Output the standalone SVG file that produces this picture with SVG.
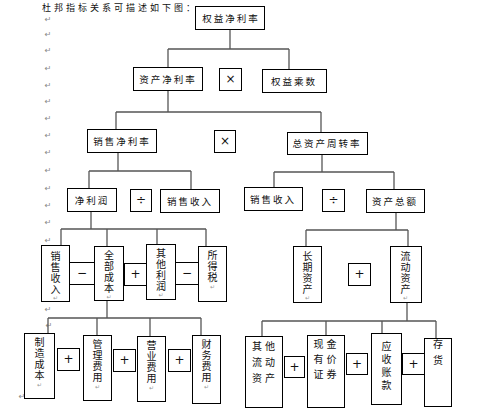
<svg xmlns="http://www.w3.org/2000/svg" width="484" height="413" viewBox="0 0 484 413">
<style>
.bg{fill:#fff}
.box{fill:#fff;stroke:#000;stroke-width:1}
.t{font-family:"Noto Sans CJK SC","Noto Sans CJK JP",sans-serif;font-size:9.5px;fill:#111;text-anchor:middle;dominant-baseline:central;letter-spacing:2px}
.h{font-family:"Noto Sans CJK SC","Noto Sans CJK JP",sans-serif;font-size:10px;fill:#111;text-anchor:middle;dominant-baseline:central;letter-spacing:3px}
.v{font-family:"Noto Sans CJK SC","Noto Sans CJK JP",sans-serif;font-size:10px;fill:#111;text-anchor:middle;writing-mode:vertical-rl;letter-spacing:1px}
.op{font-family:"DejaVu Sans",sans-serif;font-size:12px;fill:#111;text-anchor:middle;dominant-baseline:central}
.pm{font-family:"DejaVu Sans",sans-serif;font-size:8px;fill:#888;text-anchor:middle;dominant-baseline:central}
.pi{font-family:"DejaVu Sans",sans-serif;font-size:6px;fill:#999;text-anchor:middle;dominant-baseline:central}
.conn line{stroke:#555;stroke-width:1.3}
</style>
<rect class="bg" x="0" y="0" width="484" height="413"/>
<text x="42" y="10.5" style="font-family:'Noto Sans CJK SC',sans-serif;font-size:9px;fill:#111;letter-spacing:3px">杜邦指标关系可描述如下图：</text>
<g id="marks">
<text class="pm" x="48" y="19">↵</text><text class="pm" x="48" y="34">↵</text><text class="pm" x="48" y="50">↵</text>
<text class="pm" x="48" y="68">↵</text><text class="pm" x="48" y="85">↵</text><text class="pm" x="48" y="101">↵</text>
<text class="pm" x="48" y="118">↵</text><text class="pm" x="48" y="135">↵</text><text class="pm" x="48" y="152">↵</text>
<text class="pm" x="48" y="170">↵</text><text class="pm" x="48" y="188">↵</text><text class="pm" x="48" y="205">↵</text>
<text class="pm" x="48" y="222">↵</text><text class="pm" x="48" y="240">↵</text><text class="pm" x="48" y="309">↵</text>
<text class="pm" x="49" y="325">↵</text><text class="pm" x="22" y="396">↵</text>
</g>
<g class="conn" id="connectors">
<line x1="230" y1="29" x2="230" y2="49"/>
<line x1="168" y1="49" x2="289" y2="49"/>
<line x1="168" y1="49" x2="168" y2="67"/>
<line x1="289" y1="49" x2="289" y2="69"/>
<line x1="168" y1="90" x2="168" y2="112"/>
<line x1="116" y1="112" x2="321" y2="112"/>
<line x1="116" y1="112" x2="116" y2="129"/>
<line x1="321" y1="112" x2="321" y2="132"/>
<line x1="118" y1="152" x2="118" y2="171"/>
<line x1="89" y1="171" x2="191" y2="171"/>
<line x1="89" y1="171" x2="89" y2="188"/>
<line x1="191" y1="171" x2="191" y2="189"/>
<line x1="322" y1="154" x2="322" y2="172"/>
<line x1="274" y1="172" x2="394" y2="172"/>
<line x1="274" y1="172" x2="274" y2="187"/>
<line x1="394" y1="172" x2="394" y2="189"/>
<line x1="91" y1="211" x2="91" y2="229"/>
<line x1="61" y1="229" x2="206" y2="229"/>
<line x1="61" y1="229" x2="61" y2="245"/>
<line x1="107" y1="229" x2="107" y2="246"/>
<line x1="157" y1="229" x2="157" y2="244"/>
<line x1="206" y1="229" x2="206" y2="246"/>
<line x1="396" y1="212" x2="396" y2="230"/>
<line x1="306" y1="230" x2="408" y2="230"/>
<line x1="306" y1="230" x2="306" y2="246"/>
<line x1="408" y1="230" x2="408" y2="246"/>
<line x1="107" y1="300" x2="107" y2="318"/>
<line x1="48" y1="318" x2="201" y2="318"/>
<line x1="48" y1="318" x2="48" y2="333"/>
<line x1="97" y1="318" x2="97" y2="335"/>
<line x1="150" y1="318" x2="150" y2="336"/>
<line x1="201" y1="318" x2="201" y2="335"/>
<line x1="407" y1="302" x2="407" y2="321"/>
<line x1="262" y1="321" x2="436" y2="321"/>
<line x1="262" y1="321" x2="262" y2="336"/>
<line x1="326" y1="321" x2="326" y2="335"/>
<line x1="382" y1="321" x2="382" y2="333"/>
<line x1="436" y1="321" x2="436" y2="338"/>
</g>
<g id="n-roe"><rect class="box" x="195.5" y="6.5" width="69" height="23"/><text class="t" x="231" y="18">权益净利率</text></g>
<g id="n-roa"><rect class="box" x="133.5" y="67.5" width="69" height="23"/><text class="t" x="168" y="79">资产净利率</text></g>
<g id="op1"><rect class="box" x="219.5" y="68.5" width="22" height="22"/><text class="op" x="230.5" y="79">×</text></g>
<g id="n-em"><rect class="box" x="262.5" y="69.5" width="64" height="23"/><text class="t" x="294" y="81">权益乘数</text></g>
<g id="n-npm"><rect class="box" x="87.5" y="129.5" width="69" height="23"/><text class="t" x="122" y="141">销售净利率</text></g>
<g id="op2"><rect class="box" x="214.5" y="130.5" width="21" height="22"/><text class="op" x="225" y="141">×</text></g>
<g id="n-tat"><rect class="box" x="287.5" y="132.5" width="80" height="22"/><text class="t" x="327" y="143">总资产周转率</text></g>
<g id="n-np"><rect class="box" x="67.5" y="188.5" width="49" height="23"/><text class="t" x="92" y="200">净利润</text></g>
<g id="op3"><rect class="box" x="130.5" y="189.5" width="21" height="22"/><text class="op" x="141" y="200">÷</text></g>
<g id="n-sales1"><rect class="box" x="160.5" y="189.5" width="59" height="23"/><text class="t" x="190" y="201">销售收入</text></g>
<g id="n-sales2"><rect class="box" x="244.5" y="187.5" width="58" height="23"/><text class="t" x="273" y="199">销售收入</text></g>
<g id="op4"><rect class="box" x="322.5" y="189.5" width="22" height="22"/><text class="op" x="333.5" y="200">÷</text></g>
<g id="n-ta"><rect class="box" x="366.5" y="189.5" width="58" height="23"/><text class="t" x="395" y="201">资产总额</text></g>
<g id="n-sr"><rect class="box" x="41.5" y="245.5" width="28" height="56"/><text class="v" x="55.5" y="273">销售收入</text><text class="pi" x="55.5" y="297">↵</text></g>
<g id="op5"><rect class="box" x="69.5" y="262.5" width="25" height="22"/><text class="op" x="82" y="273">−</text></g>
<g id="n-tc"><rect class="box" x="94.5" y="246.5" width="29" height="54"/><text class="v" x="109" y="272">全部成本</text><text class="pi" x="109" y="296">↵</text></g>
<g id="op6"><rect class="box" x="124.5" y="263.5" width="22" height="22"/><text class="op" x="135.5" y="274">+</text></g>
<g id="n-op"><rect class="box" x="146.5" y="244.5" width="29" height="55"/><text class="v" x="161" y="270">其他利润</text><text class="pi" x="161" y="294">↵</text></g>
<g id="op7"><rect class="box" x="175.5" y="262.5" width="23" height="22"/><text class="op" x="187" y="273">−</text></g>
<g id="n-tax"><rect class="box" x="198.5" y="246.5" width="28" height="55"/><text class="v" x="212.5" y="267">所得税</text><text class="pi" x="212.5" y="286">↵</text></g>
<g id="n-la"><rect class="box" x="293.5" y="246.5" width="28" height="56"/><text class="v" x="307.5" y="273">长期资产</text><text class="pi" x="307.5" y="297">↵</text></g>
<g id="op8"><rect class="box" x="348.5" y="263.5" width="22" height="22"/><text class="op" x="359.5" y="274">+</text></g>
<g id="n-ca"><rect class="box" x="390.5" y="246.5" width="31" height="56"/><text class="v" x="405.5" y="273">流动资产</text><text class="pi" x="405.5" y="297">↵</text></g>
<g id="n-mc"><rect class="box" x="24.5" y="333.5" width="30" height="65"/><text class="v" x="39.5" y="359">制造成本</text><text class="pi" x="39.5" y="384">↵</text></g>
<g id="op9"><rect class="box" x="57.5" y="348.5" width="22" height="22"/><text class="op" x="68.5" y="359">+</text></g>
<g id="n-ae"><rect class="box" x="83.5" y="335.5" width="28" height="65"/><text class="v" x="97.5" y="361">管理费用</text><text class="pi" x="97.5" y="386">↵</text></g>
<g id="op10"><rect class="box" x="113.5" y="349.5" width="22" height="22"/><text class="op" x="124.5" y="360">+</text></g>
<g id="n-se"><rect class="box" x="137.5" y="336.5" width="28" height="65"/><text class="v" x="151.5" y="362">营业费用</text><text class="pi" x="151.5" y="387">↵</text></g>
<g id="op11"><rect class="box" x="168.5" y="349.5" width="22" height="22"/><text class="op" x="179.5" y="360">+</text></g>
<g id="n-fe"><rect class="box" x="192.5" y="335.5" width="28" height="68"/><text class="v" x="206.5" y="361">财务费用</text><text class="pi" x="206.5" y="386">↵</text></g>
<g id="n-oca"><rect class="box" x="245.5" y="336.5" width="37" height="71"/>
<text class="h" x="265" y="345">其他</text><text class="h" x="265" y="361">流动</text><text class="h" x="265" y="377">资产</text></g>
<g id="op12"><rect class="box" x="284.5" y="356.5" width="20" height="21"/><text class="op" x="294.5" y="367">+</text></g>
<g id="n-cash"><rect class="box" x="307.5" y="335.5" width="37" height="72"/>
<text class="h" x="326.5" y="343">现金</text><text class="h" x="326.5" y="358">有价</text><text class="h" x="326.5" y="373">证券</text></g>
<g id="op13"><rect class="box" x="346.5" y="353.5" width="21" height="21"/><text class="op" x="357" y="364">+</text></g>
<g id="n-ar"><rect class="box" x="371.5" y="333.5" width="30" height="71"/><text class="v" x="386.5" y="367" style="letter-spacing:3px">应收账款</text></g>
<g id="op14"><rect class="box" x="402.5" y="353.5" width="22" height="21"/><text class="op" x="413.5" y="364">+</text></g>
<g id="n-inv"><rect class="box" x="424.5" y="338.5" width="27" height="68"/><text class="v" x="438" y="355" style="letter-spacing:6px">存货</text></g>
</svg>
